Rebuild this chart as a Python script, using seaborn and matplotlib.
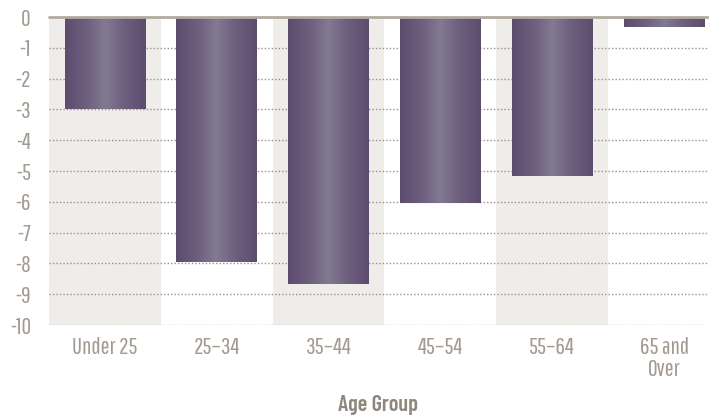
import numpy as np
import pandas as pd
import matplotlib
matplotlib.use('Agg')
import matplotlib.pyplot as plt
from matplotlib.colors import LinearSegmentedColormap
import seaborn as sns

# values
age_groups = ["Under 25", "25\u201334", "35\u201344", "45\u201354", "55\u201364", "65 and\nOver"]
change = [-3.0, -7.95, -8.67, -6.03, -5.15, -0.33]
y_ticks = [0, -1, -2, -3, -4, -5, -6, -7, -8, -9, -10]

sns.set_theme(style="white")
plt.rcParams['font.family'] = ['Pathway Gothic One', 'Barlow Condensed', 'DejaVu Sans']

text_col = "#a39b91"
df = pd.DataFrame({"group": age_groups, "change": change})

fig = plt.figure(figsize=(7.09, 4.17), dpi=100)
ax = fig.add_axes([49 / 709, (417 - 325) / 417, 671 / 709, 308 / 417])

sns.barplot(data=df, x="group", y="change", color="#6b5b7b", width=0.72,
            ax=ax, zorder=2)

# horizontal gradient on each bar
grad = LinearSegmentedColormap.from_list(
    "bar", ["#5e4c6f", "#6c5d7d", "#827a91", "#6c5d7d", "#5e4c6f"])
g = np.linspace(0, 1, 256).reshape(1, -1)
for p in ax.containers[0]:
    x0, y0 = p.get_x(), p.get_y()
    w, h = p.get_width(), p.get_height()
    ax.imshow(g, cmap=grad, aspect='auto', extent=[x0, x0 + w, y0 + h, y0],
              zorder=3, interpolation='bilinear')
    p.set_alpha(0)

# alternating background bands
for i in range(0, len(age_groups), 2):
    ax.axvspan(i - 0.5, i + 0.5, color="#efede9", lw=0, zorder=0)

# dotted gridlines
for v in y_ticks[1:]:
    ax.axhline(v, color="#9c8e82", lw=1.0, ls=(0, (1, 1.5)), zorder=1)

ax.axhline(0, color="#b2aaa1", lw=2, zorder=4, clip_on=False)

ax.set_xlim(-0.5, 5.5)
ax.set_ylim(-10, 0)
ax.set_yticks(y_ticks)
ax.set_yticklabels([str(v) for v in y_ticks])
ax.tick_params(axis='y', length=0, pad=13, labelsize=17, labelcolor=text_col)
ax.tick_params(axis='x', length=0, pad=9, labelsize=17, labelcolor=text_col)
for lab in ax.get_xticklabels():
    lab.set_linespacing(1.05)
ax.set_xlabel("")
ax.set_ylabel("")
for s in ax.spines.values():
    s.set_visible(False)

fig.text(378 / 709, 1 - 405 / 417, "Age Group", ha="center", va="center",
         fontsize=16, fontweight="semibold", color="#8f867c",
         family=['Barlow Condensed', 'DejaVu Sans'])

fig.savefig("out.png", dpi=100)
